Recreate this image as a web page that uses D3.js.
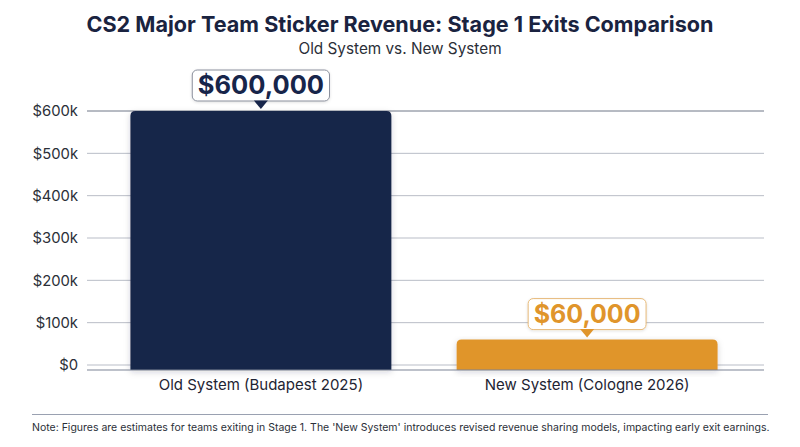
<!DOCTYPE html>
<html>
<head>
<meta charset="utf-8">
<script src="https://cdn.jsdelivr.net/npm/d3@7"></script>
<style>
  body { margin: 0; background: #fff; }
  svg { display: block; font-family: Inter, 'Noto Sans', sans-serif; }
</style>
</head>
<body>
<svg id="chart" width="800" height="447"></svg>
<script>
// chart data
var categories = ['Old System (Budapest 2025)', 'New System (Cologne 2026)']
var revenue = [600000, 60000]
var valueLabels = ['$600,000', '$60,000']
var barColors = ['#17254a', '#e0952b']
var yTicks = [0, 100000, 200000, 300000, 400000, 500000, 600000]
var yTickLabels = ['$0', '$100k', '$200k', '$300k', '$400k', '$500k', '$600k']

var title = 'CS2 Major Team Sticker Revenue: Stage 1 Exits Comparison'
var subtitle = 'Old System vs. New System'
var note = "Note: Figures are estimates for teams exiting in Stage 1. The 'New System' introduces revised revenue sharing models, impacting early exit earnings."

var svg = d3.select('#chart')

// drop shadow for bars
var defs = svg.append('defs')
var f = defs.append('filter').attr('id', 'shadow')
  .attr('x', '-10%').attr('y', '-10%').attr('width', '120%').attr('height', '130%')
f.append('feDropShadow').attr('dx', 0).attr('dy', 2).attr('stdDeviation', 3)
  .attr('flood-color', '#1a2340').attr('flood-opacity', 0.18)
var f2 = defs.append('filter').attr('id', 'lblshadow')
  .attr('x', '-20%').attr('y', '-30%').attr('width', '140%').attr('height', '170%')
f2.append('feDropShadow').attr('dx', 0).attr('dy', 1).attr('stdDeviation', 1.5)
  .attr('flood-color', '#000').attr('flood-opacity', 0.12)

// titles
svg.append('text')
  .attr('x', 400).attr('y', 32)
  .attr('text-anchor', 'middle')
  .attr('font-size', 21.6).attr('font-weight', 700)
  .attr('fill', '#1a2340')
  .text(title)

svg.append('text')
  .attr('x', 400).attr('y', 54)
  .attr('text-anchor', 'middle')
  .attr('font-size', 15.3)
  .attr('fill', '#2b2f38')
  .text(subtitle)

// scales
var x = d3.scaleBand()
  .domain(categories)
  .range([88, 760])
  .paddingInner(0.2)
  .paddingOuter(0.13)

var y = d3.scaleLinear()
  .domain([0, 600000])
  .range([365, 111])

var baseY = 370

// grid lines
var grid = svg.append('g')
grid.selectAll('line')
  .data(yTicks)
  .enter().append('line')
  .attr('x1', 87).attr('x2', 764)
  .attr('y1', function (d) { return y(d) })
  .attr('y2', function (d) { return y(d) })
  .attr('stroke', function (d) { return d === 600000 ? '#6f7687' : '#b9bdc7' })
  .attr('stroke-width', 1)

// y axis labels
var yAxisG = svg.append('g').attr('transform', 'translate(78,0)')
  .call(d3.axisLeft(y).tickValues(yTicks)
    .tickFormat(function (d, i) { return yTickLabels[i] })
    .tickSize(0).tickPadding(0))
yAxisG.select('.domain').remove()
yAxisG.selectAll('text')
  .attr('font-family', 'Inter, sans-serif')
  .attr('font-size', 14.8)
  .attr('fill', '#2b2f38')

// bars
svg.append('g').selectAll('path')
  .data(revenue)
  .enter().append('path')
  .attr('filter', 'url(#shadow)')
  .attr('fill', function (d, i) { return barColors[i] })
  .attr('d', function (d, i) {
    var x0 = x(categories[i])
    var w = x.bandwidth()
    var top = y(d)
    var r = 5
    return 'M' + x0 + ',' + baseY +
      'V' + (top + r) +
      'Q' + x0 + ',' + top + ' ' + (x0 + r) + ',' + top +
      'H' + (x0 + w - r) +
      'Q' + (x0 + w) + ',' + top + ' ' + (x0 + w) + ',' + (top + r) +
      'V' + baseY + 'Z'
  })

// x axis line
svg.append('line')
  .attr('x1', 87).attr('x2', 764)
  .attr('y1', baseY).attr('y2', baseY)
  .attr('stroke', '#7d8496').attr('stroke-width', 1.2)

// x axis labels
var xAxisG = svg.append('g').attr('transform', 'translate(0,' + baseY + ')')
  .call(d3.axisBottom(x).tickSize(0).tickPadding(0))
xAxisG.select('.domain').remove()
xAxisG.selectAll('text')
  .attr('font-family', 'Inter, sans-serif')
  .attr('font-size', 15)
  .attr('fill', '#1e2433')
  .attr('dy', 0)
  .attr('y', 20)

// value labels
var lbl = svg.append('g').selectAll('g')
  .data(revenue)
  .enter().append('g')
  .attr('transform', function (d, i) {
    return 'translate(' + (x(categories[i]) + x.bandwidth() / 2) + ',' + y(d) + ')'
  })

lbl.each(function (d, i) {
  var g = d3.select(this)
  var fs = i === 0 ? 25.5 : 25
  var t = g.append('text')
    .attr('text-anchor', 'middle')
    .attr('y', -17)
    .attr('font-size', fs)
    .attr('font-weight', 700)
    .attr('fill', barColors[i])
    .text(valueLabels[i])
  var bb = t.node().getBBox()
  var padX = 5.5
  g.insert('rect', 'text')
    .attr('x', bb.x - padX).attr('y', -41)
    .attr('width', bb.width + padX * 2).attr('height', 31)
    .attr('rx', 5)
    .attr('fill', '#fff')
    .attr('stroke', i === 0 ? '#8a8f9c' : '#e6b978')
    .attr('stroke-width', 1)
    .attr('filter', 'url(#lblshadow)')
  g.append('path')
    .attr('d', 'M-7,-10.5 L7,-10.5 L0,-2 Z')
    .attr('fill', barColors[i])
})

// footer
svg.append('line')
  .attr('x1', 32).attr('x2', 768)
  .attr('y1', 414.5).attr('y2', 414.5)
  .attr('stroke', '#9aa1b1').attr('stroke-width', 1.2)

svg.append('text')
  .attr('x', 32).attr('y', 431)
  .attr('font-size', 10.5)
  .attr('fill', '#2b2f38')
  .text(note)
</script>
</body>
</html>
